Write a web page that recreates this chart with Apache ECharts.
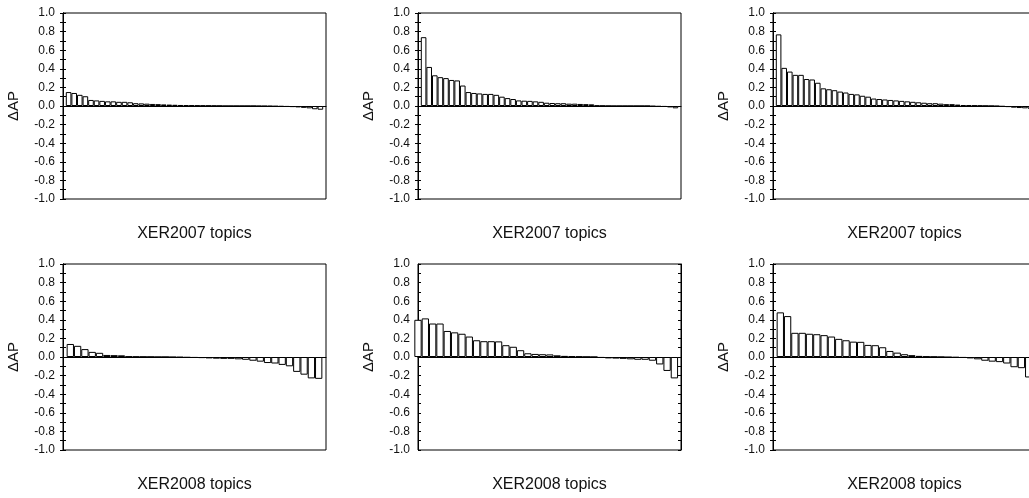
<!DOCTYPE html>
<html>
<head>
<meta charset="utf-8">
<style>
  html, body { margin: 0; padding: 0; background: #fff; }
  #chart { width: 1029px; height: 498px; }
</style>
<script src="https://cdn.jsdelivr.net/npm/echarts@6/dist/echarts.min.js"></script>
</head>
<body>
<div id="chart"></div>
<script>
// Per-topic AP differences, sorted from largest gain to largest loss.
const xer2007Left = [
  0.15, 0.14, 0.12, 0.105, 0.065, 0.06, 0.055, 0.05, 0.05, 0.045,
  0.045, 0.04, 0.03, 0.028, 0.025, 0.022, 0.02, 0.017, 0.015, 0.013,
  0.011, 0.009, 0.007, 0.006, 0.005, 0.004, 0.003, 0.002, 0, 0,
  0, 0, 0, 0, -0.002, -0.003, -0.004, -0.006, -0.008, -0.01,
  -0.012, -0.015, -0.02, -0.025, -0.035, -0.04
];
const xer2007Middle = [
  0.74, 0.42, 0.33, 0.31, 0.30, 0.28, 0.275, 0.22, 0.15, 0.14,
  0.135, 0.13, 0.13, 0.12, 0.10, 0.085, 0.075, 0.06, 0.057, 0.055,
  0.05, 0.045, 0.035, 0.032, 0.03, 0.03, 0.025, 0.025, 0.022, 0.02,
  0.018, 0.005, 0.003, 0.001, 0, 0, 0, 0, 0, 0,
  0, -0.005, -0.008, -0.01, -0.015, -0.025
];
const xer2007Right = [
  0.77, 0.41, 0.37, 0.335, 0.335, 0.29, 0.285, 0.25, 0.19, 0.18,
  0.17, 0.155, 0.145, 0.13, 0.125, 0.11, 0.10, 0.08, 0.075, 0.07,
  0.065, 0.06, 0.055, 0.05, 0.045, 0.04, 0.035, 0.03, 0.03, 0.025,
  0.02, 0.02, 0.015, 0.01, 0.008, 0.006, 0.004, 0.002, 0, -0.003,
  -0.008, -0.012, -0.018, -0.022, -0.025, -0.03
];
const xer2008Left = [
  0.14, 0.12, 0.085, 0.055, 0.045, 0.022, 0.02, 0.018, 0.006, 0.004,
  0.003, 0.002, 0, 0, -0.003, -0.005, -0.008, -0.01, -0.012, -0.015,
  -0.018, -0.02, -0.02, -0.025, -0.03, -0.04, -0.05, -0.065, -0.07, -0.085,
  -0.10, -0.16, -0.19, -0.23, -0.235
];
const xer2008Middle = [
  0.40, 0.415, 0.36, 0.36, 0.28, 0.265, 0.25, 0.22, 0.18, 0.17,
  0.17, 0.168, 0.127, 0.11, 0.073, 0.04, 0.033, 0.03, 0.028, 0.018,
  0.012, 0.008, 0.005, 0.002, 0, -0.01, -0.015, -0.017, -0.02, -0.025,
  -0.03, -0.03, -0.04, -0.08, -0.15, -0.23
];
const xer2008Right = [
  0.48, 0.44, 0.26, 0.26, 0.25, 0.245, 0.235, 0.22, 0.195, 0.18,
  0.165, 0.163, 0.13, 0.127, 0.105, 0.065, 0.047, 0.03, 0.02, 0.012,
  0.006, 0.003, 0, -0.004, -0.007, -0.01, -0.015, -0.025, -0.04, -0.05,
  -0.055, -0.07, -0.11, -0.12, -0.22
];

const xTitles = ['XER2007 topics', 'XER2008 topics'];
const yTitle = '\u0394AP';
const yMin = -1.0, yMax = 1.0, yStep = 0.2;

// Panel layout: three columns by two rows.
const colLeft = [63, 418, 773];
const rowTop = [13, 264];
const plotW = 263, plotH = 186;

const panels = [
  { data: xer2007Left,   row: 0, col: 0 },
  { data: xer2007Middle, row: 0, col: 1 },
  { data: xer2007Right,  row: 0, col: 2 },
  { data: xer2008Left,   row: 1, col: 0 },
  { data: xer2008Middle, row: 1, col: 1, xMin: 1.0, xMax: 36.9 },
  { data: xer2008Right,  row: 1, col: 2 }
];

const font = "'Liberation Sans', Arial, Helvetica, sans-serif";
const option = {
  animation: false,
  backgroundColor: '#fff',
  grid: [], xAxis: [], yAxis: [], series: []
};

panels.forEach((p, i) => {
  const n = p.data.length;
  const xMin = p.xMin !== undefined ? p.xMin : 0;
  const xMax = p.xMax !== undefined ? p.xMax : n + 1;
  const barPx = plotW / (xMax - xMin);

  option.grid.push({
    left: colLeft[p.col], top: rowTop[p.row], width: plotW, height: plotH,
    outerBoundsMode: 'none', containLabel: false,
    show: true, borderColor: '#000', borderWidth: 1, backgroundColor: 'transparent'
  });

  // Bar axis; its line marks the zero level.
  option.xAxis.push({
    gridIndex: i, type: 'value', min: xMin, max: xMax,
    axisLine: { show: true, onZero: true, lineStyle: { color: '#000', width: 1 } },
    axisTick: { show: false }, axisLabel: { show: false }, splitLine: { show: false }
  });
  // Bottom axis carrying the caption.
  option.xAxis.push({
    gridIndex: i, type: 'value', position: 'bottom', min: xMin, max: xMax,
    name: xTitles[p.row], nameLocation: 'middle', nameGap: 27,
    nameTextStyle: { fontFamily: font, fontSize: 16, color: '#111' },
    axisLine: { show: false, onZero: false }, axisTick: { show: false },
    axisLabel: { show: false }, splitLine: { show: false }
  });

  const tickStyle = { show: true, inside: true, length: 3, lineStyle: { color: '#000' } };
  const minorStyle = { show: true, splitNumber: 2, length: 3, lineStyle: { color: '#000' } };

  option.yAxis.push({
    gridIndex: i, type: 'value', position: 'left',
    min: yMin, max: yMax, interval: yStep,
    name: yTitle, nameLocation: 'middle', nameGap: 42, nameRotate: 90,
    nameTextStyle: { fontFamily: font, fontSize: 15, color: '#111' },
    axisLine: { show: true, lineStyle: { color: '#000', width: 1 } },
    axisTick: tickStyle, minorTick: minorStyle,
    axisLabel: {
      margin: 8, fontFamily: font, fontSize: 12, color: '#111',
      formatter: v => v.toFixed(1)
    },
    splitLine: { show: false }
  });
  option.yAxis.push({
    gridIndex: i, type: 'value', position: 'right',
    min: yMin, max: yMax, interval: yStep,
    axisLine: { show: true, lineStyle: { color: '#000', width: 1 } },
    axisTick: tickStyle, minorTick: minorStyle,
    axisLabel: { show: false }, splitLine: { show: false }
  });

  option.series.push({
    type: 'bar',
    xAxisIndex: 2 * i, yAxisIndex: 2 * i,
    data: p.data.map((v, k) => [k + 1, v]),
    barWidth: barPx,
    clip: true,
    silent: true,
    itemStyle: { color: '#fff', borderColor: '#000', borderWidth: 1 }
  });
});

const chart = echarts.init(document.getElementById('chart'), null, { renderer: 'canvas' });
chart.setOption(option);
</script>
</body>
</html>
